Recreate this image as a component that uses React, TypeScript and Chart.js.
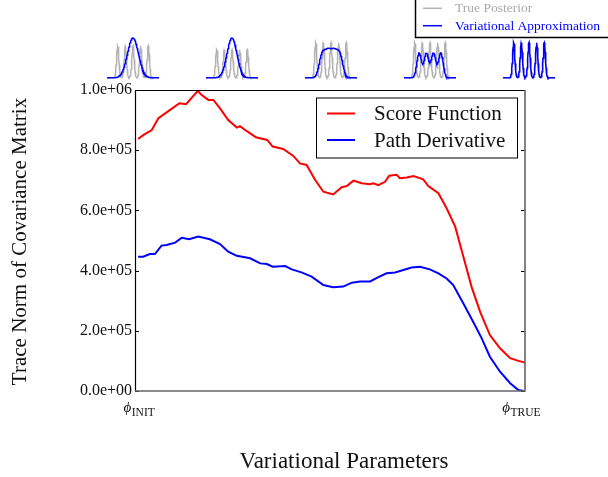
import React, { useEffect, useRef } from 'react';
import { Chart, registerables } from 'chart.js';
Chart.register(...registerables);

// ---- main chart data (x = position along the path from phi_INIT to phi_TRUE) ----
const scoreX = [0.008, 0.021, 0.043, 0.06, 0.09, 0.114, 0.131, 0.161, 0.171, 0.188, 0.201, 0.218, 0.239, 0.261, 0.269, 0.286, 0.31, 0.339, 0.353, 0.38, 0.406, 0.423, 0.44, 0.462, 0.483, 0.508, 0.53, 0.543, 0.56, 0.581, 0.603, 0.611, 0.624, 0.641, 0.652, 0.671, 0.679, 0.697, 0.714, 0.739, 0.752, 0.778, 0.799, 0.821, 0.842, 0.863, 0.885, 0.91, 0.936, 0.962, 0.983, 1.0];
const scoreY = [837000, 850000, 867000, 906000, 934000, 956000, 953000, 997000, 983000, 967000, 967000, 939000, 900000, 875000, 880000, 864000, 843000, 834000, 812000, 804000, 781000, 756000, 751000, 701000, 662000, 653000, 677000, 681000, 699000, 690000, 687000, 690000, 684000, 695000, 715000, 718000, 707000, 709000, 714000, 703000, 681000, 657000, 607000, 546000, 446000, 346000, 263000, 186000, 142000, 109000, 100000, 95000];
const pathX = [0.008, 0.021, 0.038, 0.051, 0.068, 0.081, 0.103, 0.12, 0.139, 0.162, 0.192, 0.218, 0.239, 0.261, 0.295, 0.321, 0.338, 0.353, 0.385, 0.402, 0.427, 0.453, 0.483, 0.508, 0.534, 0.556, 0.577, 0.603, 0.624, 0.645, 0.667, 0.688, 0.709, 0.731, 0.756, 0.778, 0.799, 0.816, 0.842, 0.867, 0.889, 0.91, 0.936, 0.962, 0.983, 0.996];
const pathY = [446000, 446000, 455000, 455000, 483000, 485000, 493000, 509000, 504000, 513000, 504000, 488000, 463000, 449000, 441000, 424000, 422000, 413000, 415000, 404000, 394000, 380000, 352000, 345000, 347000, 360000, 364000, 364000, 378000, 391000, 394000, 402000, 410000, 413000, 404000, 391000, 374000, 352000, 291000, 230000, 175000, 114000, 64000, 26000, 3000, 0];
const seriesLabels = ['Score Function', 'Path Derivative'];
const seriesColors = ['#ff0000', '#0000ff'];
const yTickValues = [0, 200000, 400000, 600000, 800000, 1000000];
const xTickValues = [0.01, 0.99];
const xTickSubscripts = ['INIT', 'TRUE'];
const xTitle = 'Variational Parameters';
const yTitle = 'Trace Norm of Covariance Matrix';

// ---- inset densities: Gaussian mixture parameters ----
const trueMeans = [-2, -1, 0, 1, 2];
const trueSigma = 0.15;
const trueHeights = [0.73, 0.64, 0.8, 0.8, 0.8];
const approxMeans = [[0], [0], [-1.15, -0.38, 0.38, 1.15], [-1.42, -0.46, 0.46, 1.42], [-2, -1, 0, 1, 2]];
const approxSigmas = [0.72, 0.65, 0.4, 0.3, 0.15];
const approxHeights = [0.91, 0.91, 0.51, 0.565, 0.8];
const insetLegendLabels = ['True Posterior', 'Variational Approximation'];
const insetColors = ['#b3b3b3', '#0000ff'];

const SERIF = '"Liberation Serif", "Times New Roman", serif';

function fmtSci(v: number): string {
  if (v === 0) return '0.0e+00';
  const e = Math.floor(Math.log10(v) + 1e-9);
  const m = v / Math.pow(10, e);
  return m.toFixed(1) + 'e+' + String(e).padStart(2, '0');
}

function mixture(xs: number[], means: number[], sigma: number, h: number) {
  return xs.map((x) => ({
    x,
    y: means.reduce((s, m) => s + h * Math.exp(-((x - m) * (x - m)) / (2 * sigma * sigma)), 0),
  }));
}

const framePlugin = {
  id: 'frame',
  afterDatasetsDraw(chart: any) {
    const { ctx, chartArea } = chart;
    const { left, right, top, bottom } = chartArea;
    const ys = chart.scales.y;
    ctx.save();
    // inward ticks on both sides
    ctx.strokeStyle = '#000';
    ctx.lineWidth = 1;
    yTickValues.forEach((v) => {
      const py = Math.round(ys.getPixelForValue(v)) + 0.5;
      ctx.beginPath();
      ctx.moveTo(left, py);
      ctx.lineTo(left + 4, py);
      ctx.moveTo(right, py);
      ctx.lineTo(right - 4, py);
      ctx.stroke();
    });
    // spines
    ctx.strokeStyle = '#000';
    ctx.lineWidth = 1.2;
    ctx.beginPath();
    ctx.moveTo(left + 0.5, bottom);
    ctx.lineTo(left + 0.5, top + 0.5);
    ctx.lineTo(right, top + 0.5);
    ctx.stroke();
    ctx.strokeStyle = '#666';
    ctx.lineWidth = 1.6;
    ctx.beginPath();
    ctx.moveTo(right, top);
    ctx.lineTo(right, bottom);
    ctx.lineTo(left, bottom);
    ctx.stroke();

    // legend inside axes
    const bx = right - 209;
    const by = top + 7.5;
    const bw = 201;
    const bh = 60;
    ctx.fillStyle = '#fff';
    ctx.fillRect(bx, by, bw, bh);
    ctx.strokeStyle = '#000';
    ctx.lineWidth = 1;
    ctx.strokeRect(bx + 0.5, by + 0.5, bw, bh);
    ctx.font = '21px ' + SERIF;
    ctx.textBaseline = 'middle';
    ctx.textAlign = 'left';
    chart.data.datasets.forEach((ds: any, i: number) => {
      const ly = by + 16 + i * 26.5;
      ctx.strokeStyle = ds.borderColor;
      ctx.lineWidth = 2;
      ctx.beginPath();
      ctx.moveTo(bx + 11, ly);
      ctx.lineTo(bx + 39, ly);
      ctx.stroke();
      ctx.fillStyle = '#111';
      ctx.fillText(ds.label, bx + 58, ly + 1);
    });
    ctx.restore();
  },
  afterDraw(chart: any) {
    const { ctx, chartArea } = chart;
    const { left, right, top, bottom } = chartArea;
    const xs = chart.scales.x;
    ctx.save();
    ctx.fillStyle = '#111';
    // x tick labels: phi with subscript
    xTickValues.forEach((v, i) => {
      const px = xs.getPixelForValue(v);
      ctx.font = 'italic 15px ' + SERIF;
      const w1 = ctx.measureText('\u03D5').width;
      ctx.font = '11.5px ' + SERIF;
      const w2 = ctx.measureText(xTickSubscripts[i]).width;
      const x0 = px - (w1 + w2) / 2;
      ctx.textBaseline = 'alphabetic';
      ctx.textAlign = 'left';
      ctx.font = 'italic 15px ' + SERIF;
      ctx.fillText('\u03D5', x0, bottom + 21);
      ctx.font = '11.5px ' + SERIF;
      ctx.fillText(xTickSubscripts[i], x0 + w1 + 0.5, bottom + 25);
    });
    // axis titles
    ctx.font = '23px ' + SERIF;
    ctx.textAlign = 'center';
    ctx.textBaseline = 'alphabetic';
    ctx.fillText(xTitle, (left + right) / 2 + 14, bottom + 77);
    ctx.font = '21px ' + SERIF;
    ctx.save();
    ctx.translate(26, (top + bottom) / 2 + 1);
    ctx.rotate(-Math.PI / 2);
    ctx.fillText(yTitle, 0, 0);
    ctx.restore();

    // figure legend (top right)
    ctx.fillStyle = '#fff';
    ctx.fillRect(415, -2, 194, 39.5);
    ctx.strokeStyle = '#000';
    ctx.lineWidth = 1.5;
    ctx.strokeRect(415.5, -2, 194, 39.5);
    ctx.font = '13.5px ' + SERIF;
    ctx.textAlign = 'left';
    ctx.textBaseline = 'middle';
    insetLegendLabels.forEach((lab, i) => {
      const ly = 8.3 + i * 17.4;
      ctx.strokeStyle = insetColors[i];
      ctx.lineWidth = 1.5;
      ctx.beginPath();
      ctx.moveTo(423, ly);
      ctx.lineTo(442, ly);
      ctx.stroke();
      ctx.fillStyle = i === 0 ? '#aaaaaa' : '#0000ff';
      ctx.fillText(lab, 455, ly + 0.5);
    });
    ctx.restore();
  },
};

const INSET_CENTERS = [132.5, 231.5, 330.5, 429.5, 529];
const INSET_W = 52;
const INSET_H = 46;
const INSET_TOP = 34;

function Inset({ idx }: { idx: number }) {
  const ref = useRef<HTMLCanvasElement>(null);
  useEffect(() => {
    const grid: number[] = [];
    for (let k = 0; k <= 170; k++) grid.push(-3.4 + k * 0.04);
    const truth = mixture(grid, trueMeans, trueSigma, trueHeights[idx]);
    const approx = mixture(grid, approxMeans[idx], approxSigmas[idx], approxHeights[idx]);
    const ch = new Chart(ref.current as HTMLCanvasElement, {
      type: 'line',
      data: {
        datasets: [
          { data: approx, borderColor: insetColors[1], borderWidth: 1.5, pointRadius: 0, fill: false, tension: 0 },
          { data: truth, borderColor: insetColors[0], borderWidth: 1.5, pointRadius: 0, fill: false, tension: 0 },
        ],
      },
      options: {
        animation: false,
        responsive: false,
        devicePixelRatio: 1,
        layout: { padding: 0 },
        plugins: { legend: { display: false }, tooltip: { enabled: false } },
        scales: {
          x: { type: 'linear', display: false, min: -3.4, max: 3.4 },
          y: { display: false, min: -0.05, max: 1 },
        },
      },
    } as any);
    return () => ch.destroy();
  }, [idx]);
  return (
    <canvas
      ref={ref}
      width={INSET_W}
      height={INSET_H}
      style={{ position: 'absolute', left: INSET_CENTERS[idx] - INSET_W / 2, top: INSET_TOP, width: INSET_W, height: INSET_H }}
    />
  );
}

export default function App() {
  const ref = useRef<HTMLCanvasElement>(null);
  useEffect(() => {
    const ch = new Chart(ref.current as HTMLCanvasElement, {
      type: 'line',
      data: {
        datasets: [
          {
            label: seriesLabels[0],
            data: scoreX.map((x, i) => ({ x, y: scoreY[i] })),
            borderColor: seriesColors[0],
            borderWidth: 2,
            pointRadius: 0,
            fill: false,
            tension: 0,
          },
          {
            label: seriesLabels[1],
            data: pathX.map((x, i) => ({ x, y: pathY[i] })),
            borderColor: seriesColors[1],
            borderWidth: 2,
            pointRadius: 0,
            fill: false,
            tension: 0,
          },
        ],
      },
      options: {
        animation: false,
        responsive: false,
        devicePixelRatio: 1,
        layout: { padding: { left: 0, top: 90, right: 83, bottom: 0 } },
        plugins: { legend: { display: false }, tooltip: { enabled: false } },
        scales: {
          x: {
            type: 'linear',
            min: 0,
            max: 1,
            grid: { display: false, drawTicks: false },
            border: { display: false },
            ticks: { display: false },
            afterFit: (s: any) => {
              s.height = 86;
            },
          },
          y: {
            min: 0,
            max: 1000000,
            afterBuildTicks: (s: any) => {
              s.ticks = yTickValues.map((v) => ({ value: v }));
            },
            ticks: {
              callback: (v: any) => fmtSci(Number(v)),
              font: { family: SERIF, size: 16 },
              color: '#111',
              padding: 3,
            },
            grid: { display: false, drawTicks: false },
            border: { display: false },
            afterFit: (s: any) => {
              s.width = 135;
            },
          },
        },
      },
      plugins: [framePlugin],
    } as any);
    return () => ch.destroy();
  }, []);
  return (
    <div style={{ position: 'fixed', left: 0, top: 0, width: 608, height: 477, background: '#fff', overflow: 'hidden' }}>
      <canvas ref={ref} width={608} height={477} style={{ position: 'absolute', left: 0, top: 0, width: 608, height: 477 }} />
      {[0, 1, 2, 3, 4].map((i) => (
        <Inset key={i} idx={i} />
      ))}
    </div>
  );
}
